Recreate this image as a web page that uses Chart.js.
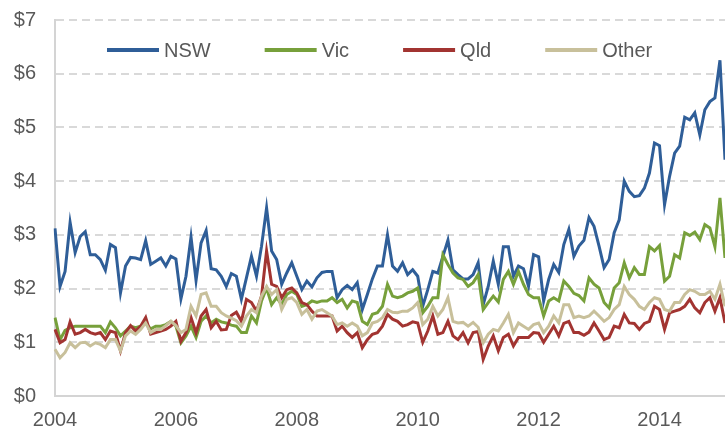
<!DOCTYPE html>
<html>
<head>
<meta charset="utf-8">
<title>Prices by state</title>
<style>
  html, body { margin: 0; padding: 0; background: #ffffff; }
  #chart-wrap { width: 725px; height: 432px; }
</style>
</head>
<body>
<div id="chart-wrap"><canvas id="price-chart"></canvas></div>
<script src="https://cdn.jsdelivr.net/npm/chart.js@4.4.0/dist/chart.umd.min.js"></script>
<script>
// monthly series, Jan 2004 to Jan 2015
var startYear = 2004;
var monthCount = 134;

var nsw = [
  3.12, 2.04, 2.32, 3.23, 2.67, 2.97, 3.06, 2.63, 2.63, 2.54, 2.34, 2.82,
  2.76, 1.92, 2.42, 2.58, 2.57, 2.54, 2.89, 2.45, 2.51, 2.57, 2.42, 2.60,
  2.55, 1.81, 2.23, 2.96, 2.15, 2.85, 3.08, 2.37, 2.35, 2.23, 2.04, 2.28,
  2.23, 1.80, 2.20, 2.60, 2.23, 2.79, 3.50, 2.70, 2.54, 2.08, 2.29, 2.48,
  2.23, 1.98, 2.14, 2.03, 2.20, 2.30, 2.32, 2.32, 1.83, 1.98, 2.06, 1.98,
  2.11, 1.61, 1.89, 2.18, 2.42, 2.42, 3.00, 2.42, 2.32, 2.48, 2.26, 2.35,
  2.23, 1.67, 1.98, 2.32, 2.29, 2.60, 2.90, 2.35, 2.26, 2.18, 2.18, 2.26,
  2.48, 1.70, 2.04, 2.51, 2.08, 2.78, 2.78, 2.23, 2.42, 2.37, 2.04, 2.63,
  2.59, 1.77, 2.17, 2.45, 2.30, 2.82, 3.10, 2.60, 2.79, 2.90, 3.32, 3.16,
  2.79, 2.39, 2.54, 3.04, 3.28, 4.00, 3.81, 3.71, 3.73, 3.87, 4.15, 4.71,
  4.66, 3.56, 4.09, 4.52, 4.65, 5.19, 5.14, 5.27, 4.86, 5.33, 5.48, 5.55,
  6.25, 4.40
];

var vic = [
  1.46, 1.05, 1.22, 1.27, 1.30, 1.30, 1.30, 1.30, 1.30, 1.30, 1.18, 1.38,
  1.27, 1.12, 1.21, 1.30, 1.27, 1.30, 1.36, 1.25, 1.30, 1.30, 1.33, 1.39,
  1.30, 0.99, 1.12, 1.30, 1.09, 1.39, 1.49, 1.36, 1.43, 1.38, 1.36, 1.32,
  1.30, 1.18, 1.18, 1.49, 1.36, 1.77, 2.01, 1.70, 1.83, 1.70, 1.89, 1.95,
  1.89, 1.67, 1.70, 1.77, 1.74, 1.77, 1.77, 1.83, 1.74, 1.80, 1.64, 1.77,
  1.74, 1.39, 1.33, 1.52, 1.55, 1.67, 2.08, 1.86, 1.83, 1.86, 1.92, 1.95,
  2.01, 1.55, 1.67, 1.83, 1.83, 2.63, 2.45, 2.29, 2.20, 2.17, 2.04, 2.11,
  2.26, 1.61, 1.74, 1.86, 1.75, 2.17, 2.32, 2.08, 2.32, 2.08, 1.89, 1.83,
  1.83, 1.49, 1.77, 1.83, 1.77, 2.14, 2.04, 1.91, 1.87, 1.77, 2.20, 2.08,
  2.01, 1.74, 1.64, 2.01, 2.11, 2.48, 2.20, 2.39, 2.26, 2.26, 2.78, 2.70,
  2.80, 2.14, 2.23, 2.63, 2.57, 3.04, 2.99, 3.05, 2.91, 3.19, 3.13, 2.78,
  3.69, 2.57
];

var qld = [
  1.24, 0.99, 1.05, 1.38, 1.15, 1.18, 1.24, 1.18, 1.15, 1.18, 1.05, 1.21,
  1.18, 0.84, 1.18, 1.31, 1.21, 1.30, 1.46, 1.15, 1.18, 1.21, 1.24, 1.30,
  1.39, 1.02, 1.18, 1.46, 1.18, 1.49, 1.61, 1.27, 1.39, 1.23, 1.24, 1.50,
  1.56, 1.39, 1.80, 1.74, 1.58, 1.86, 2.70, 2.08, 2.04, 1.83, 1.98, 2.01,
  1.92, 1.74, 1.70, 1.58, 1.49, 1.49, 1.49, 1.49, 1.21, 1.30, 1.18, 1.09,
  1.18, 0.90, 1.05, 1.15, 1.18, 1.30, 1.52, 1.43, 1.39, 1.30, 1.33, 1.38,
  1.36, 1.00, 1.21, 1.49, 1.15, 1.18, 1.39, 1.12, 1.05, 1.18, 0.99, 1.18,
  1.20, 0.68, 0.93, 1.12, 0.84, 1.09, 1.15, 0.93, 1.09, 1.09, 1.09, 1.18,
  1.17, 1.00, 1.15, 1.30, 1.12, 1.35, 1.39, 1.18, 1.18, 1.13, 1.19, 1.36,
  1.21, 1.05, 1.09, 1.30, 1.27, 1.52, 1.36, 1.35, 1.24, 1.35, 1.39, 1.67,
  1.61, 1.24, 1.55, 1.58, 1.61, 1.67, 1.80, 1.64, 1.55, 1.74, 1.83, 1.58,
  1.83, 1.36
];

var other = [
  0.87, 0.71, 0.81, 0.99, 0.90, 0.99, 1.00, 0.93, 0.99, 0.96, 0.90, 1.05,
  1.05, 0.84, 1.12, 1.21, 1.15, 1.24, 1.36, 1.18, 1.24, 1.24, 1.31, 1.39,
  1.31, 1.18, 1.24, 1.67, 1.49, 1.89, 1.92, 1.67, 1.67, 1.55, 1.49, 1.45,
  1.40, 1.30, 1.49, 1.61, 1.55, 1.86, 2.04, 1.89, 1.98, 1.61, 1.80, 1.83,
  1.74, 1.52, 1.61, 1.43, 1.58, 1.61, 1.55, 1.49, 1.33, 1.36, 1.30, 1.36,
  1.30, 1.12, 1.18, 1.36, 1.39, 1.46, 1.61, 1.56, 1.55, 1.58, 1.58, 1.64,
  1.74, 1.33, 1.43, 1.67, 1.49, 1.61, 1.83, 1.39, 1.36, 1.37, 1.30, 1.37,
  1.28, 0.99, 1.15, 1.24, 1.21, 1.36, 1.52, 1.18, 1.36, 1.30, 1.24, 1.33,
  1.36, 1.18, 1.30, 1.49, 1.36, 1.70, 1.70, 1.46, 1.49, 1.46, 1.49, 1.58,
  1.49, 1.39, 1.46, 1.61, 1.70, 2.04, 1.89, 1.80, 1.67, 1.61, 1.74, 1.83,
  1.80, 1.61, 1.58, 1.74, 1.74, 1.89, 1.98, 1.95, 1.89, 1.89, 1.95, 1.80,
  2.08, 1.67
];

var seriesNames = ['NSW', 'Vic', 'Qld', 'Other'];
var seriesColors = ['#2f5e98', '#77a03b', '#a23431', '#c8c09b'];
var yTicks = [0, 1, 2, 3, 4, 5, 6, 7];
var yearLabels = ['2004', '2006', '2008', '2010', '2012', '2014'];

var textColor = '#595959';
var fontFamily = '"Liberation Sans", Arial, sans-serif';

function makeMonthLabels() {
    const labels = [];
    for (let i = 0; i < monthCount; i++) {
        const year = startYear + Math.floor(i / 12);
        const month = (i % 12) + 1;
        labels.push(`${year}-${month < 10 ? '0' + month : month}`);
    }
    return labels;
}

function getYearLabel(value, index) {
    const label = this.getLabelForValue(value);
    const year = label.slice(0, 4);
    if (label.slice(5) === '01' && yearLabels.includes(year)) {
        return year;
    }
    return '';
}

function createDataset(name, data, index) {
    return {
        label: name,
        data: data,
        borderColor: seriesColors[index],
        backgroundColor: seriesColors[index],
        borderWidth: 3,
        pointRadius: 0,
        tension: 0,
        // excel draws the later series on top
        order: seriesNames.length - index
    };
}

// legend sits inside the plot, under the top gridline
var insideLegend = {
    id: 'insideLegend',
    afterDraw(chart) {
        const ctx = chart.ctx;
        const area = chart.chartArea;
        const lineLength = 52;
        const textGap = 5;
        const itemGap = 54;
        let x = area.left + 52;
        const y = area.top + 30;
        ctx.save();
        ctx.font = '20px ' + fontFamily;
        ctx.textBaseline = 'middle';
        chart.data.datasets.forEach(ds => {
            ctx.strokeStyle = ds.borderColor;
            ctx.lineWidth = 4;
            ctx.beginPath();
            ctx.moveTo(x, y);
            ctx.lineTo(x + lineLength, y);
            ctx.stroke();
            ctx.fillStyle = textColor;
            ctx.fillText(ds.label, x + lineLength + textGap, y + 1);
            x += lineLength + textGap + ctx.measureText(ds.label).width + itemGap;
        });
        ctx.restore();
    }
};

var datasets = [
    createDataset(seriesNames[0], nsw, 0),
    createDataset(seriesNames[1], vic, 1),
    createDataset(seriesNames[2], qld, 2),
    createDataset(seriesNames[3], other, 3)
];

var priceChart = new Chart(document.getElementById('price-chart'), {
    type: 'line',
    data: {
        labels: makeMonthLabels(),
        datasets: datasets
    },
    plugins: [insideLegend],
    options: {
        responsive: true,
        maintainAspectRatio: false,
        animation: false,
        layout: {
            padding: { top: 20, right: 0, left: 0, bottom: 0 }
        },
        plugins: {
            legend: { display: false },
            tooltip: { enabled: false }
        },
        scales: {
            x: {
                offset: false,
                grid: { display: false, drawTicks: false },
                border: { display: true, color: '#d4d4d4', width: 2 },
                ticks: {
                    autoSkip: false,
                    maxRotation: 0,
                    padding: 12,
                    color: textColor,
                    font: { family: fontFamily, size: 20 },
                    callback: getYearLabel
                },
                afterFit: function (scale) {
                    scale.height = 36;
                    scale.paddingLeft = 0;
                    scale.paddingRight = 0;
                }
            },
            y: {
                min: yTicks[0],
                max: yTicks[yTicks.length - 1],
                afterBuildTicks: function (scale) {
                    scale.ticks = yTicks.map(v => ({ value: v }));
                },
                grid: {
                    drawTicks: false,
                    lineWidth: 2,
                    color: ctx => ctx.tick && ctx.tick.value === 0 ? 'rgba(0,0,0,0)' : '#d9d9d9'
                },
                border: { display: true, color: '#d4d4d4', width: 2, dash: [8, 5] },
                ticks: {
                    padding: 19,
                    color: textColor,
                    font: { family: fontFamily, size: 20 },
                    callback: value => '$' + value
                },
                afterFit: function (scale) {
                    scale.width = 55;
                    scale.paddingTop = 0;
                    scale.paddingBottom = 0;
                }
            }
        }
    }
});
</script>
</body>
</html>
